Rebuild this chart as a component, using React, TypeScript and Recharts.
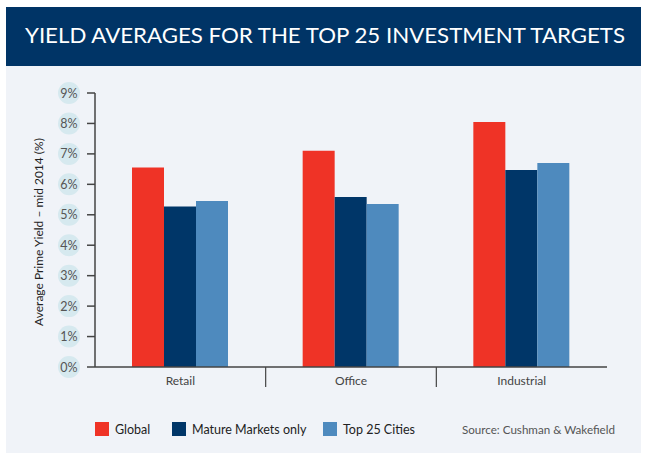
import React from 'react';
import { BarChart, Bar, XAxis, YAxis, Legend } from 'recharts';

const categories = ['Retail', 'Office', 'Industrial'];
const globalValues = [6.55, 7.1, 8.05];
const matureValues = [5.27, 5.58, 6.47];
const top25Values = [5.45, 5.35, 6.7];
const yTicks = [0, 1, 2, 3, 4, 5, 6, 7, 8, 9];

const seriesDefs = [
  { key: 'global', name: 'Global', color: '#ef3326' },
  { key: 'mature', name: 'Mature Markets only', color: '#003668' },
  { key: 'top25', name: 'Top 25 Cities', color: '#4e8abe' },
];

const data = categories.map((c, i) => ({
  category: c,
  global: globalValues[i],
  mature: matureValues[i],
  top25: top25Values[i],
}));

const FONT = 'Lato, "Open Sans", sans-serif';
const PLOT_LEFT = 95;
const PLOT_RIGHT = 607;
const BAND = (PLOT_RIGHT - PLOT_LEFT) / categories.length;

const YTick = (props: any) => {
  const { y, payload } = props;
  return (
    <g>
      <circle cx={69} cy={y} r={11} fill="#d6e9ef" />
      <text x={69} y={y} dy={4.5} textAnchor="middle" fontSize={12.5} fill="#555" fontFamily={FONT}>
        {`${payload.value}%`}
      </text>
    </g>
  );
};

const XTick = (props: any) => {
  const { x, payload, index } = props;
  return (
    <g>
      {index > 0 && (
        <line x1={x - BAND / 2} x2={x - BAND / 2} y1={367} y2={387} stroke="#444" strokeWidth={1.2} />
      )}
      <text x={x} y={385} textAnchor="middle" fontSize={12} fill="#444" fontFamily={FONT}>
        {payload.value}
      </text>
    </g>
  );
};

const LegendContent = () => {
  const items = [
    { x: 95, tx: 115 },
    { x: 172, tx: 192 },
    { x: 323, tx: 343 },
  ];
  return (
    <svg width={645} height={30} style={{ display: 'block' }}>
      {seriesDefs.map((s, i) => (
        <g key={s.key}>
          <rect x={items[i].x} y={8} width={14} height={14} fill={s.color} />
          <text x={items[i].tx} y={20} fontSize={12.5} fill="#222" fontFamily={FONT}>
            {s.name}
          </text>
        </g>
      ))}
      <text x={462} y={20} fontSize={12} fill="#555" fontFamily={FONT} textLength={153} lengthAdjust="spacingAndGlyphs">
        Source: Cushman &amp; Wakefield
      </text>
    </svg>
  );
};

export default function App() {
  return (
    <div style={{ position: 'absolute', left: 0, top: 0, width: 645, height: 453, background: '#ffffff', overflow: 'hidden' }}>
      <div style={{ position: 'absolute', left: 6, top: 7, width: 635, height: 446, background: '#f0f3f8' }} />
      <div style={{ position: 'absolute', left: 6, top: 7, width: 635, height: 59, background: '#003466' }} />
      <svg style={{ position: 'absolute', left: 0, top: 0 }} width={645} height={70}>
        <text x={25} y={43} fontSize={21} fill="#ffffff" fontFamily={FONT} textLength={600} lengthAdjust="spacingAndGlyphs">
          YIELD AVERAGES FOR THE TOP 25 INVESTMENT TARGETS
        </text>
      </svg>
      <div style={{ position: 'absolute', left: 0, top: 0 }}>
        <BarChart
          width={645}
          height={453}
          data={data}
          margin={{ top: 93, right: 645 - PLOT_RIGHT, bottom: 56, left: 0 }}
          barGap={0}
          barSize={32}
        >
          <XAxis
            dataKey="category"
            height={30}
            tickLine={false}
            axisLine={{ stroke: '#444', strokeWidth: 1.5 }}
            tick={<XTick />}
            interval={0}
          />
          <YAxis
            width={95}
            domain={[0, 9]}
            ticks={yTicks}
            interval={0}
            tickSize={8}
            tickLine={{ stroke: '#444', strokeWidth: 1.5 }}
            axisLine={{ stroke: '#444', strokeWidth: 1.5 }}
            tick={<YTick />}
            label={{
              value: 'Average Prime Yield – mid 2014 (%)',
              angle: -90,
              position: 'insideLeft',
              content: () => (
                <text
                  x={40}
                  y={232}
                  transform="rotate(-90 40 232)"
                  textAnchor="middle"
                  dominantBaseline="middle"
                  fontSize={12}
                  fill="#222"
                  fontFamily={FONT}
                >
                  Average Prime Yield – mid 2014 (%)
                </text>
              ),
            }}
          />
          {seriesDefs.map((s) => (
            <Bar key={s.key} dataKey={s.key} name={s.name} fill={s.color} isAnimationActive={false} />
          ))}
          <Legend
            layout="horizontal"
            verticalAlign="middle"
            align="center"
            content={<LegendContent />}
            wrapperStyle={{ position: 'absolute', left: 0, top: 414, width: 645, height: 30 }}
          />
        </BarChart>
      </div>
    </div>
  );
}
